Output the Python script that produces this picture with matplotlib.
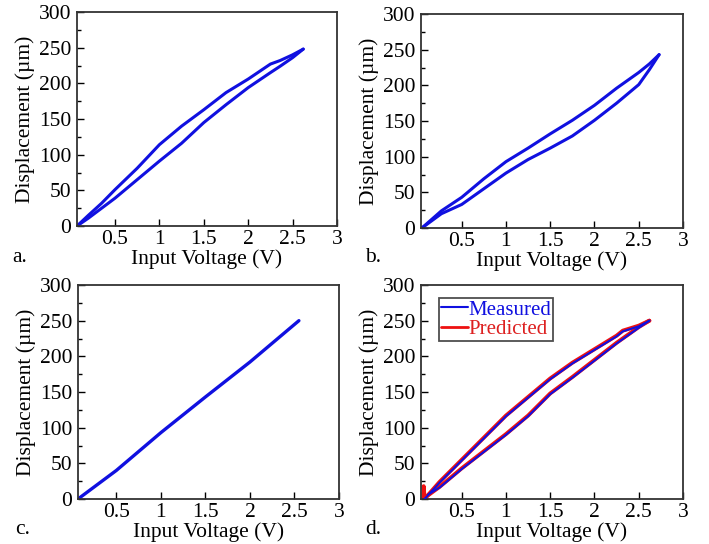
import matplotlib
matplotlib.use('Agg')
import matplotlib.pyplot as plt
from matplotlib.ticker import MultipleLocator

plt.rc('font', family='Liberation Serif', size=15)
plt.rc('lines', solid_joinstyle='round', solid_capstyle='round')

# 数据 a: 迟滞回线 (上升/下降)
a_x = [0.072, 0.2, 0.35, 0.5, 0.75, 1.0, 1.25, 1.5, 1.75, 2.0, 2.25, 2.36, 2.5, 2.62]
a_up = [0, 11, 25, 39, 65, 91, 116, 145, 170, 194, 215, 224, 236, 248]
a_down = [0, 15, 32, 51, 81, 114, 140, 163, 187, 206, 227, 232, 240, 248]

# 数据 b
b_x = [0.05, 0.27, 0.5, 0.75, 1.0, 1.25, 1.5, 1.75, 2.0, 2.25, 2.5, 2.62, 2.73]
b_up = [0, 20, 33, 55, 77, 96, 112, 129, 151, 175, 201, 222, 243]
b_down = [0, 24, 43, 69, 93, 112, 132, 151, 172, 196, 218, 230, 243]

# 数据 c: 补偿后 (线性)
c_x = [0.07, 0.5, 1.0, 1.5, 2.0, 2.55]
c_y = [0, 40, 93, 143, 192, 250]

# 数据 d: 测量 vs 预测
d_x_up = [0.118, 0.25, 0.5, 0.75, 1.0, 1.25, 1.5, 1.75, 2.0, 2.25, 2.5, 2.62]
d_meas_up = [6, 16, 42, 66, 90, 116, 147, 170, 194, 218, 240, 250]
d_x_down = [0.08, 0.25, 0.5, 0.75, 1.0, 1.25, 1.5, 1.75, 2.0, 2.25, 2.32, 2.5, 2.62]
d_meas_down = [0, 23, 54, 85, 116, 142, 168, 190, 209, 228, 235, 242, 250]
d_pred_x_up = [0.07, 0.07, 0.08, 0.118, 0.25, 0.5, 0.75, 1.0, 1.25, 1.5, 1.75, 2.0, 2.25, 2.5, 2.62]
d_pred_up = [0, 18, 2, 5, 17, 43, 67, 91, 117, 148, 171, 195, 219, 241, 250]
d_pred_down = [0, 24, 55, 86, 117, 143, 169, 191, 210, 229, 236, 243, 250]

W, H = 709, 544
fig = plt.figure(figsize=(W / 100, H / 100), dpi=100)


def make_ax(l, r, t, b, xmin):
    ax = fig.add_axes([l / W, 1 - b / H, (r - l) / W, (b - t) / H])
    ax.set_xlim(xmin, 3)
    ax.set_ylim(0, 300)
    ax.set_xticks([0.5, 1, 1.5, 2, 2.5, 3])
    ax.set_xticklabels(['0.5', '1', '1.5', '2', '2.5', '3'])
    ax.set_yticks([0, 50, 100, 150, 200, 250, 300])
    ax.yaxis.set_minor_locator(MultipleLocator(25))
    ax.tick_params(direction='in', length=5, width=1, pad=4, labelsize=15.5)
    ax.tick_params(axis='x', pad=3)
    ax.tick_params(which='minor', direction='in', length=3, width=1)
    for s in ax.spines.values():
        s.set_color('#333333')
        s.set_linewidth(1.3)
    ax.set_xlabel('Input Voltage (V)', fontsize=15.5, labelpad=0)
    ax.set_ylabel('Displacement (\u00b5m)', fontsize=15.5, labelpad=3)
    return ax


blue = '#1010e0'
red = '#ee1111'

ax1 = make_ax(77, 337, 12, 226, 0.072)
ax1.plot(a_x, a_up, color=blue, lw=2.2)
ax1.plot(a_x, a_down, color=blue, lw=2.2)

ax2 = make_ax(421, 683, 14, 228, 0.04)
ax2.plot(b_x, b_up, color=blue, lw=2.2)
ax2.plot(b_x, b_down, color=blue, lw=2.2)

ax3 = make_ax(78, 339, 285, 499, 0.07)
ax3.plot(c_x, c_y, color=blue, lw=2.4)

ax4 = make_ax(421, 683, 285, 499, 0.04)
ax4.plot(d_pred_x_up, d_pred_up, color=red, lw=2.8, zorder=2)
ax4.plot(d_x_down, d_pred_down, color=red, lw=2.8, zorder=2)
ax4.plot(d_x_up, d_meas_up, color=blue, lw=1.5, label='Measured', zorder=3)
ax4.plot(d_x_down, d_meas_down, color=blue, lw=1.5, zorder=3)
ax4.plot([], [], color=red, lw=2, label='Predicted')
leg = ax4.legend(loc='upper left', bbox_to_anchor=(0.068, 0.94), fontsize=15,
                 frameon=True, fancybox=False, handlelength=1.3, handletextpad=0.0,
                 borderpad=0.1, labelspacing=0.0, borderaxespad=0)
leg.get_frame().set_edgecolor('#222222')
leg.get_frame().set_linewidth(1.3)
for txt, c in zip(leg.get_texts(), [blue, '#dd2020']):
    txt.set_color(c)

fig.text(12 / W, 1 - 258 / H, 'a.', fontsize=15.5, va='center')
fig.text(365 / W, 1 - 258 / H, 'b.', fontsize=15.5, va='center')
fig.text(15 / W, 1 - 530 / H, 'c.', fontsize=15.5, va='center')
fig.text(365 / W, 1 - 530 / H, 'd.', fontsize=15.5, va='center')

plt.savefig('out.png', dpi=100)
